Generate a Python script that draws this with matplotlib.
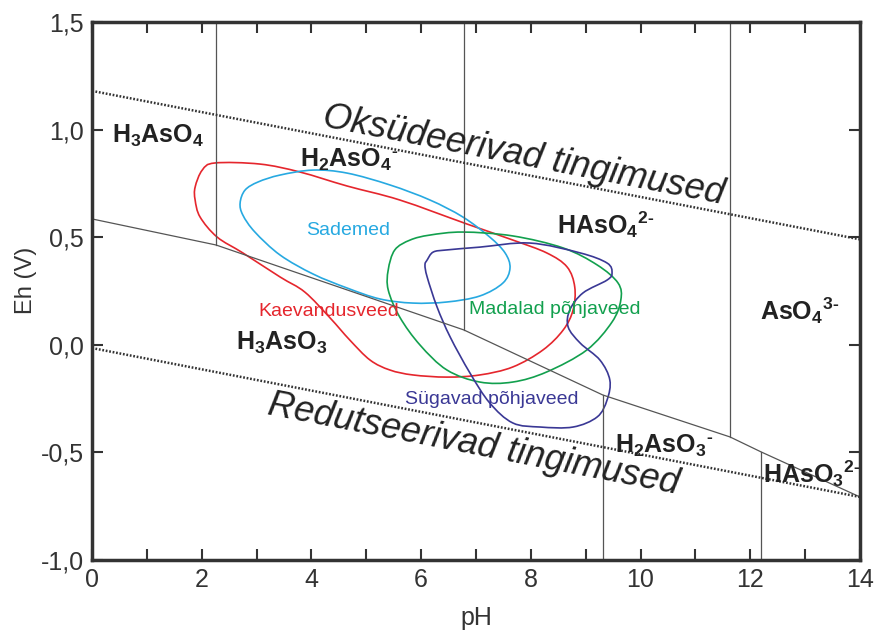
import numpy as np
import matplotlib
matplotlib.use("Agg")
import matplotlib.pyplot as plt
from matplotlib.path import Path
from matplotlib.patches import PathPatch

plt.rcParams['font.family'] = ['Liberation Sans', 'DejaVu Sans']
plt.rcParams['mathtext.fontset'] = 'custom'
plt.rcParams['mathtext.rm'] = 'Liberation Sans'
plt.rcParams['mathtext.bf'] = 'Liberation Sans:bold'
plt.rcParams['mathtext.it'] = 'Liberation Sans:italic'

# As(V)/As(III) boundary
bound_ph = [0, 2.26, 6.78, 9.31, 11.63, 12.2, 14]
bound_eh = [0.585, 0.464, 0.069, -0.233, -0.428, -0.498, -0.707]

# species boundaries: As(V) ones go up to the top, As(III) ones go down to the bottom
upper_ph = [2.26, 6.78, 11.63]
lower_ph = [9.31, 12.2]

# water stability limits
ox_ph, ox_eh = [0, 14], [1.18, 0.49]
red_ph, red_eh = [0, 14], [-0.015, -0.707]

# water type fields (closed outlines)
kaev_ph = [1.88, 2.01, 2.24, 3.06, 3.79, 4.65, 5.61, 6.84, 7.67, 8.29, 8.66, 8.80, 8.77, 8.59,
           8.22, 7.67, 7.07, 6.47, 5.85, 5.43, 5.07, 4.70, 4.34, 3.88, 3.43, 2.75, 2.28, 1.97, 1.88]
kaev_eh = [0.733, 0.812, 0.845, 0.840, 0.803, 0.738, 0.673, 0.561, 0.487, 0.427, 0.362, 0.269, 0.162, 0.069,
           -0.024, -0.103, -0.140, -0.150, -0.140, -0.117, -0.071, 0.022, 0.125, 0.245, 0.315, 0.427, 0.501, 0.594, 0.673]

sade_ph = [2.70, 2.79, 3.03, 3.43, 4.03, 4.65, 5.43, 6.16, 6.76, 7.25, 7.53, 7.62, 7.49, 7.07,
           6.47, 5.85, 5.25, 4.65, 4.03, 3.43, 2.97, 2.75]
sade_eh = [0.659, 0.719, 0.757, 0.789, 0.812, 0.798, 0.743, 0.673, 0.594, 0.501, 0.427, 0.357, 0.287, 0.227,
           0.199, 0.194, 0.213, 0.264, 0.329, 0.417, 0.524, 0.603]

mada_ph = [5.40, 5.52, 5.80, 6.16, 6.76, 7.67, 8.59, 9.21, 9.59, 9.64, 9.48, 9.02, 8.29, 7.67,
           7.07, 6.47, 5.98, 5.61, 5.40]
mada_eh = [0.348, 0.441, 0.487, 0.510, 0.524, 0.506, 0.450, 0.371, 0.287, 0.208, 0.106, -0.024, -0.126, -0.173,
           -0.173, -0.117, -0.001, 0.129, 0.255]

suga_ph = [6.11, 6.22, 6.47, 7.07, 7.98, 8.90, 9.39, 9.48, 9.39, 8.95, 8.71, 8.68, 8.90, 9.26, 9.44,
           9.39, 9.21, 8.77, 8.17, 7.67, 7.25, 6.89, 6.53, 6.29, 6.11, 6.07]
suga_eh = [0.394, 0.431, 0.441, 0.454, 0.473, 0.427, 0.380, 0.334, 0.301, 0.241, 0.162, 0.083, 0.008, -0.071, -0.164,
           -0.256, -0.335, -0.382, -0.382, -0.363, -0.270, -0.131, 0.036, 0.176, 0.315, 0.371]

c_red, c_cyan, c_green, c_purple = '#e5262d', '#27a9e1', '#12a04e', '#3a3895'


def closed_curve(xs, ys):
    # Catmull-Rom through the points, as cubic Bezier segments
    p = np.column_stack([xs, ys])
    n = len(p)
    verts = [p[0]]
    codes = [Path.MOVETO]
    for i in range(n):
        p0, p1, p2, p3 = p[i - 1], p[i], p[(i + 1) % n], p[(i + 2) % n]
        verts += [p1 + (p2 - p0) / 6, p2 - (p3 - p1) / 6, p2]
        codes += [Path.CURVE4] * 3
    return Path(verts, codes)


fig = plt.figure(figsize=(8.77, 6.33), dpi=100)
ax = fig.add_axes([0.1049, 0.1153, 0.8757, 0.8499])

ax.plot(bound_ph, bound_eh, color='#555555', lw=0.9)
for x in upper_ph:
    ax.plot([x, x], [np.interp(x, bound_ph, bound_eh), 1.5], color='#555555', lw=0.9)
for x in lower_ph:
    ax.plot([x, x], [-1.0, np.interp(x, bound_ph, bound_eh)], color='#555555', lw=0.9)

ax.plot(ox_ph, ox_eh, color='#333333', lw=1.8, ls=(0, (0.7, 0.7)))
ax.plot(red_ph, red_eh, color='#333333', lw=1.8, ls=(0, (0.7, 0.7)))

for xs, ys, c in [(kaev_ph, kaev_eh, c_red), (sade_ph, sade_eh, c_cyan),
                  (mada_ph, mada_eh, c_green), (suga_ph, suga_eh, c_purple)]:
    ax.add_patch(PathPatch(closed_curve(xs, ys), fill=False, edgecolor=c, lw=1.2))

# species (charge written after the subscript, with a short hyphen)
sp = dict(fontsize=18, color='#222222', va='center', ha='left')
ax.text(0.36, 0.97, r'$\mathbf{H_3AsO_4}$', **sp)
ax.text(3.79, 0.86, r'$\mathbf{H_2AsO_4{}^{‐}}$', **sp)
ax.text(8.48, 0.56, r'$\mathbf{HAsO_4{}^{2‐}}$', **sp)
ax.text(12.18, 0.16, r'$\mathbf{AsO_4{}^{3‐}}$', **sp)
ax.text(2.62, 0.01, r'$\mathbf{H_3AsO_3}$', **sp)
ax.text(9.53, -0.47, r'$\mathbf{H_2AsO_3{}^{‐}}$', **sp)
ax.text(12.23, -0.60, r'$\mathbf{HAsO_3{}^{2‐}}$', **sp)

# water types
ax.text(3.90, 0.53, 'Sademed', color=c_cyan, fontsize=14, va='center')
ax.text(3.03, 0.157, 'Kaevandusveed', color=c_red, fontsize=14, va='center')
ax.text(6.87, 0.162, 'Madalad põhjaveed', color=c_green, fontsize=14, va='center')
ax.text(5.71, -0.252, 'Sügavad põhjaveed', color=c_purple, fontsize=14, va='center')

ax.text(7.87, 0.88, 'Oksüdeerivad tingimused', fontsize=26, style='italic', color='#222222',
        rotation=-11, rotation_mode='anchor', ha='center', va='center')
ax.text(6.96, -0.466, 'Redutseerivad tingimused', fontsize=26, style='italic', color='#222222',
        rotation=-11, rotation_mode='anchor', ha='center', va='center')

ax.set_xlim(0, 14)
ax.set_ylim(-1.0, 1.5)
ax.set_xticks(np.arange(0, 15, 2))
ax.set_xticks(np.arange(0, 15, 1), minor=True)
ax.set_yticks(np.arange(-1.0, 1.51, 0.5))
ax.set_yticklabels([f'{v:.1f}'.replace('.', ',') for v in np.arange(-1.0, 1.51, 0.5)])
ax.tick_params(which='both', direction='in', length=8, width=1.5, color='#333333',
               top=True, right=True, labelsize=18, labelcolor='#333333', pad=6)
ax.tick_params(axis='y', which='minor', left=False, right=False)
for s in ax.spines.values():
    s.set_linewidth(2.5)
    s.set_color('#333333')

ax.set_xlabel('pH', fontsize=18, color='#333333', labelpad=10)
ax.set_ylabel('Eh (V)', fontsize=17, color='#333333')
ax.yaxis.set_label_coords(-0.072, 0.52)

fig.savefig('out.png', dpi=100)
